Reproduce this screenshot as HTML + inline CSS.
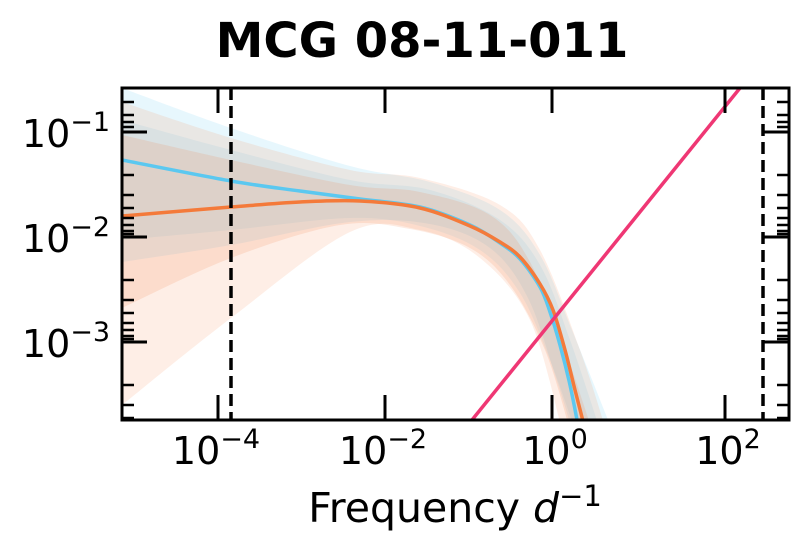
<!DOCTYPE html>
<html><head><style>
body{margin:0;background:#fff;}
text{font-family:"DejaVu Sans","Liberation Sans",sans-serif;}
</style></head><body>
<svg id="s" width="808" height="552" viewBox="0 0 808 552" xmlns="http://www.w3.org/2000/svg">
<rect width="808" height="552" fill="#fff"/>
<text x="422" y="57" font-size="48" font-weight="bold" text-anchor="middle">MCG 08-11-011</text>
<defs><clipPath id="c"><rect x="122" y="88" width="667" height="332"/></clipPath></defs>
<g clip-path="url(#c)" id="g"></g>
<line x1="231" y1="88" x2="231" y2="420" stroke="#000" stroke-width="3.5" stroke-dasharray="12,6"/>
<line x1="763" y1="88" x2="763" y2="420" stroke="#000" stroke-width="3.5" stroke-dasharray="12,6"/>
<g stroke="#000" stroke-width="3">
<line x1="218" y1="420" x2="218" y2="395"/><line x1="385" y1="420" x2="385" y2="395"/><line x1="552" y1="420" x2="552" y2="395"/><line x1="725" y1="420" x2="725" y2="395"/>
<line x1="218" y1="88" x2="218" y2="113"/><line x1="385" y1="88" x2="385" y2="113"/><line x1="552" y1="88" x2="552" y2="113"/><line x1="725" y1="88" x2="725" y2="113"/>
<line x1="122" y1="132" x2="147" y2="132"/><line x1="122" y1="237" x2="147" y2="237"/><line x1="122" y1="342" x2="147" y2="342"/>
<line x1="789" y1="132" x2="764" y2="132"/><line x1="789" y1="237" x2="764" y2="237"/><line x1="789" y1="342" x2="764" y2="342"/>
</g>
<g stroke="#000" stroke-width="2.5">
<path d="M122,102h12M122,115h12M122,122h12M122,127h12
M122,175h12M122,195h12M122,208h12M122,218h12M122,225h12M122,231h12M122,234h12
M122,280h12M122,300h12M122,313h12M122,323h12M122,330h12M122,336h12M122,339h12
M122,385h12M122,405h12M122,418h12
M789,102h-12M789,115h-12M789,122h-12M789,127h-12
M789,175h-12M789,195h-12M789,208h-12M789,218h-12M789,225h-12M789,231h-12M789,234h-12
M789,280h-12M789,300h-12M789,313h-12M789,323h-12M789,330h-12M789,336h-12M789,339h-12
M789,385h-12M789,405h-12M789,418h-12"/>
</g>
<rect x="122" y="88" width="667" height="332" fill="none" stroke="#000" stroke-width="3"/>
<g font-size="38">
<text x="66" y="147" text-anchor="middle">10<tspan font-size="27" dy="-16">−1</tspan></text>
<text x="66" y="252" text-anchor="middle">10<tspan font-size="27" dy="-16">−2</tspan></text>
<text x="66" y="357" text-anchor="middle">10<tspan font-size="27" dy="-16">−3</tspan></text>
<text x="216" y="464" text-anchor="middle">10<tspan font-size="27" dy="-16">−4</tspan></text>
<text x="383" y="464" text-anchor="middle">10<tspan font-size="27" dy="-16">−2</tspan></text>
<text x="555" y="464" text-anchor="middle">10<tspan font-size="27" dy="-16">0</tspan></text>
<text x="728" y="464" text-anchor="middle">10<tspan font-size="27" dy="-16">2</tspan></text>
</g>
<text x="455" y="522" font-size="41" text-anchor="middle">Frequency <tspan font-style="italic">d</tspan><tspan font-size="29" dy="-16">−1</tspan></text>
</svg>
<script>
function cr(p){var d="M"+p[0][0]+","+p[0][1];for(var i=0;i<p.length-1;i++){var a=p[i-1]||p[i],b=p[i],c=p[i+1],e=p[i+2]||c;
d+=" C"+(b[0]+(c[0]-a[0])/6)+","+(b[1]+(c[1]-a[1])/6)+" "+(c[0]-(e[0]-b[0])/6)+","+(c[1]-(e[1]-b[1])/6)+" "+c[0]+","+c[1];}return d;}
function band(u,l){return cr(u)+" L"+cr(l.slice().reverse()).slice(1)+" Z";}
var g=document.getElementById("g"),h="";
function P(d,attr){h+='<path d="'+d+'" '+attr+'/>';}
P(band([[122,88],[231,128],[350,166],[430,182],[500,210],[540,255],[572,330],[612,430]],[[122,262],[231,245],[350,222],[430,224],[490,248],[528,298],[556,378],[572,430]]),'fill="#5bc8f0" opacity="0.15"');
P(band([[122,120],[231,150],[350,180],[430,190],[500,220],[540,265],[570,340],[600,430]],[[122,240],[231,230],[350,218],[420,226],[480,250],[520,293],[550,360],[575,430]]),'fill="#5bc8f0" opacity="0.12"');
P(band([[122,102],[231,138],[350,170],[420,178],[500,205],[540,250],[580,350],[606,430]],[[122,405],[231,318],[350,232],[420,230],[480,258],[530,320],[562,430]]),'fill="#f47a3a" opacity="0.13"');
P(band([[122,135],[231,160],[350,185],[420,192],[490,215],[530,262],[565,350],[592,430]],[[122,308],[231,258],[340,225],[410,229],[470,248],[510,285],[545,350],[570,430]]),'fill="#f47a3a" opacity="0.15"');
P(cr([[122,160],[231,181],[300,191],[360,199],[420,207],[470,225],[500,243],[520,259],[540,287],[550,312],[560,345],[570,385],[578,425]]),'fill="none" stroke="#5bc8f0" stroke-width="3.5"');
P(cr([[122,216],[231,207],[300,202],[360,201],[420,208],[470,226],[500,242],[520,257],[540,284],[553,310],[565,350],[575,390],[584,425]]),'fill="none" stroke="#f47a3a" stroke-width="3.5"');
P("M472,420 L740,88",'stroke="#ef3774" stroke-width="3.5"');
g.innerHTML=h;
</script>
</body></html>
